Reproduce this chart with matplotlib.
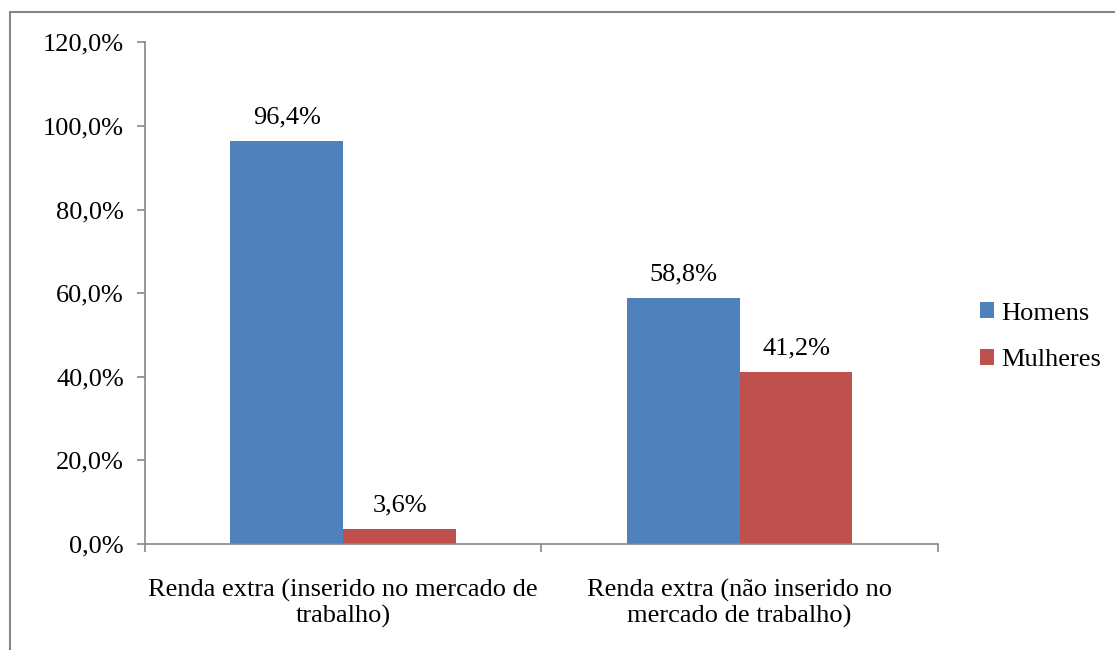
import numpy as np
import matplotlib.pyplot as plt
from matplotlib.patches import Rectangle

plt.rcParams['font.family'] = ['Liberation Serif', 'DejaVu Serif']

# Dados
categorias = ["Renda extra (inserido no mercado de\ntrabalho)",
              "Renda extra (não inserido no\nmercado de trabalho)"]
homens = [96.4, 58.8]
mulheres = [3.6, 41.2]
series = ["Homens", "Mulheres"]
cores = ["#4F81BD", "#C0504D"]

fs = 19

fig = plt.figure(figsize=(11.15, 6.5), dpi=100)
ax = fig.add_axes([0.130, 0.163, 0.711, 0.772])

# moldura externa
fig.patches.append(Rectangle((0.009, -0.01), 1.2, 0.992, transform=fig.transFigure,
                             fill=False, edgecolor="#868686", linewidth=1.5))

x = np.arange(len(categorias))
w = 0.285
b1 = ax.bar(x - w / 2, homens, w, color=cores[0], label=series[0])
b2 = ax.bar(x + w / 2, mulheres, w, color=cores[1], label=series[1])

for barras, vals in [(b1, homens), (b2, mulheres)]:
    for b, v in zip(barras, vals):
        ax.text(b.get_x() + b.get_width() / 2, v + 3.0, f"{v:.1f}%".replace(".", ","),
                ha="center", va="bottom", fontsize=fs)

ax.set_xlim(-0.5, 1.5)
ax.set_ylim(0, 120)
ax.set_yticks(np.arange(0, 121, 20))
ax.set_yticklabels([f"{t:.1f}%".replace(".", ",") for t in np.arange(0, 121, 20)], fontsize=fs)
ax.set_xticks([-0.5, 0.5, 1.5])
ax.set_xticklabels([])
ax.set_xticks(x, minor=True)
ax.set_xticklabels(categorias, minor=True, fontsize=fs)
ax.tick_params(axis="x", which="minor", length=0, pad=25)
ax.tick_params(axis="both", which="major", length=6, color="#868686", width=1.2)
ax.tick_params(axis="y", pad=9)

for s in ["top", "right"]:
    ax.spines[s].set_visible(False)
for s in ["left", "bottom"]:
    ax.spines[s].set_color("#868686")
    ax.spines[s].set_linewidth(1.2)

ax.legend(loc="center left", bbox_to_anchor=(1.04, 0.413), frameon=False, fontsize=fs,
          handlelength=0.55, handleheight=0.55, handletextpad=0.25, labelspacing=0.92,
          borderaxespad=0)

fig.savefig("out.png", dpi=100)
